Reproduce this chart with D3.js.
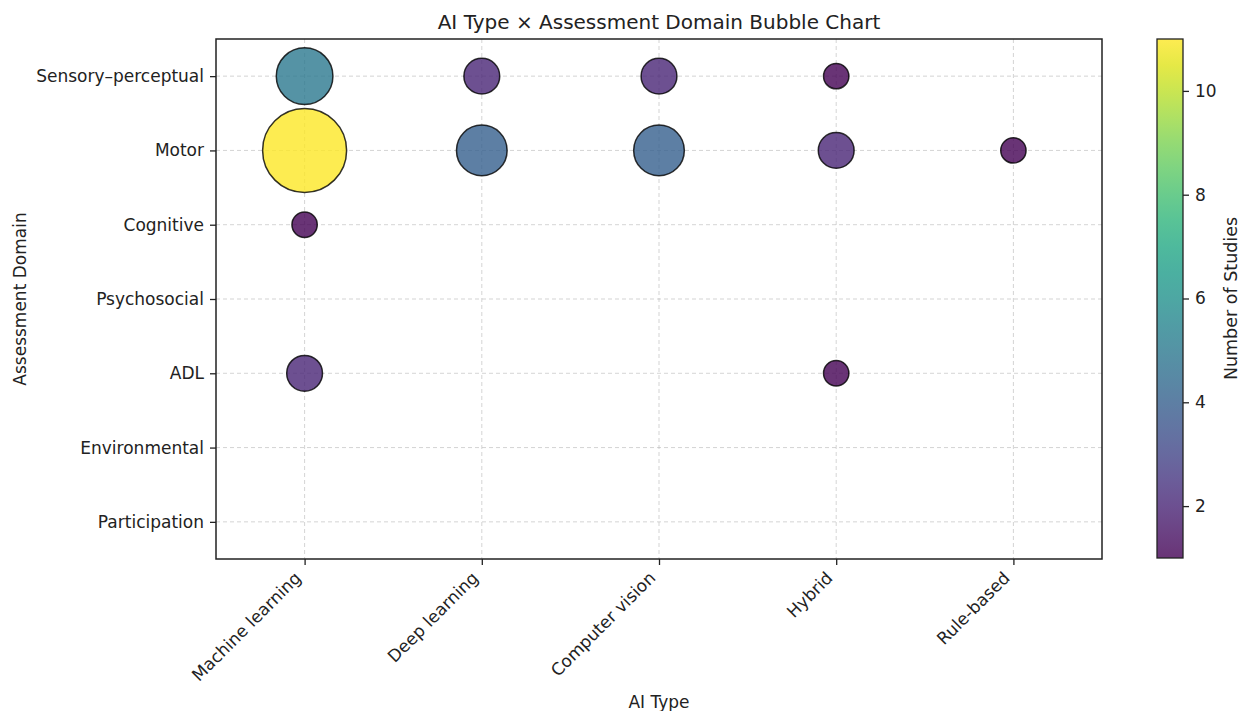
<!DOCTYPE html>
<html>
<head>
<meta charset="utf-8">
<script src="https://d3js.org/d3.v7.min.js"></script>
<style>
    body { margin: 0; background: white; }
    svg { font-family: "DejaVu Sans", sans-serif; }
    .grid line { stroke: #b0b0b0; stroke-dasharray: 4,3; stroke-opacity: 0.55; }
</style>
</head>
<body>
<script>
    // categories
    var aiTypes = ["Machine learning", "Deep learning", "Computer vision", "Hybrid", "Rule-based"];
    var domains = ["Sensory–perceptual", "Motor", "Cognitive", "Psychosocial", "ADL", "Environmental", "Participation"];

    // number of studies per AI type, one entry per domain (0 = no bubble)
    var machineLearning = [5, 11, 1, 0, 2, 0, 0];
    var deepLearning    = [2, 4, 0, 0, 0, 0, 0];
    var computerVision  = [2, 4, 0, 0, 0, 0, 0];
    var hybrid          = [1, 2, 0, 0, 1, 0, 0];
    var ruleBased       = [0, 1, 0, 0, 0, 0, 0];

    var colorTicks = [2, 4, 6, 8, 10];

    var counts = [machineLearning, deepLearning, computerVision, hybrid, ruleBased];
    var points = [];
    counts.forEach(function(row, i) {
        row.forEach(function(v, j) {
            if (v > 0) points.push({ai: aiTypes[i], domain: domains[j], n: v});
        });
    });

    var width = 1244, height = 711;
    var plot = {left: 216, right: 1102, top: 39, bottom: 559};
    var fs = 17;

    var svg = d3.select("body").append("svg")
        .attr("width", width)
        .attr("height", height);

    var x = d3.scalePoint().domain(aiTypes).range([plot.left, plot.right]).padding(0.5);
    var y = d3.scalePoint().domain(domains).range([plot.top, plot.bottom]).padding(0.5);
    var r = d3.scaleSqrt().domain([0, 11]).range([0, 42]);
    var color = d3.scaleSequential(d3.interpolateViridis).domain([1, 11]);

    // grid
    var grid = svg.append("g").attr("class", "grid");
    grid.selectAll(".gx").data(aiTypes).enter().append("line")
        .attr("x1", function(d) { return x(d); })
        .attr("x2", function(d) { return x(d); })
        .attr("y1", plot.top).attr("y2", plot.bottom);
    grid.selectAll(".gy").data(domains).enter().append("line")
        .attr("y1", function(d) { return y(d); })
        .attr("y2", function(d) { return y(d); })
        .attr("x1", plot.left).attr("x2", plot.right);

    // bubbles
    svg.append("g").selectAll("circle")
        .data(points)
        .enter().append("circle")
        .attr("cx", function(d) { return x(d.ai); })
        .attr("cy", function(d) { return y(d.domain); })
        .attr("r", function(d) { return r(d.n); })
        .attr("fill", function(d) { return color(d.n); })
        .attr("fill-opacity", 0.8)
        .attr("stroke", "#000")
        .attr("stroke-opacity", 0.8)
        .attr("stroke-width", 1.5);

    // frame
    svg.append("rect")
        .attr("x", plot.left).attr("y", plot.top)
        .attr("width", plot.right - plot.left)
        .attr("height", plot.bottom - plot.top)
        .attr("fill", "none")
        .attr("stroke", "#222")
        .attr("stroke-width", 1.5);

    // y axis
    var yAxis = svg.append("g")
        .attr("transform", "translate(" + plot.left + ",0)")
        .call(d3.axisLeft(y).tickSize(6).tickPadding(6));
    yAxis.select(".domain").remove();
    yAxis.selectAll(".tick line").attr("stroke", "#222").attr("stroke-width", 1.3);
    yAxis.selectAll("text").attr("font-size", fs).attr("fill", "#222")
        .attr("font-family", "DejaVu Sans");

    // x axis
    var xAxis = svg.append("g")
        .attr("transform", "translate(0," + plot.bottom + ")")
        .call(d3.axisBottom(x).tickSize(6).tickPadding(5));
    xAxis.select(".domain").remove();
    xAxis.selectAll(".tick line").attr("stroke", "#222").attr("stroke-width", 1.3);
    xAxis.selectAll("text")
        .attr("font-size", fs).attr("fill", "#222")
        .attr("font-family", "DejaVu Sans")
        .attr("text-anchor", "end")
        .attr("x", 0).attr("y", 0).attr("dy", 0)
        .attr("transform", "translate(-3,20) rotate(-45)");

    // title and labels
    svg.append("text")
        .attr("x", (plot.left + plot.right) / 2).attr("y", 29)
        .attr("text-anchor", "middle")
        .attr("font-size", 20).attr("fill", "#222")
        .text("AI Type × Assessment Domain Bubble Chart");

    svg.append("text")
        .attr("x", (plot.left + plot.right) / 2).attr("y", 708)
        .attr("text-anchor", "middle")
        .attr("font-size", fs).attr("fill", "#222")
        .text("AI Type");

    svg.append("text")
        .attr("transform", "translate(26," + (plot.top + plot.bottom) / 2 + ") rotate(-90)")
        .attr("text-anchor", "middle")
        .attr("font-size", fs).attr("fill", "#222")
        .text("Assessment Domain");

    // colorbar
    var cb = {x: 1157, w: 26, top: 39, bottom: 558};
    var cy = d3.scaleLinear().domain([1, 11]).range([cb.bottom, cb.top]);

    var defs = svg.append("defs");
    var grad = defs.append("linearGradient")
        .attr("id", "cbgrad")
        .attr("x1", 0).attr("y1", 1).attr("x2", 0).attr("y2", 0);
    d3.range(0, 1.0001, 0.05).forEach(function(t) {
        grad.append("stop")
            .attr("offset", t)
            .attr("stop-color", d3.interpolateViridis(t));
    });

    svg.append("rect")
        .attr("x", cb.x).attr("y", cb.top)
        .attr("width", cb.w).attr("height", cb.bottom - cb.top)
        .attr("fill", "url(#cbgrad)")
        .attr("fill-opacity", 0.8);
    svg.append("rect")
        .attr("x", cb.x).attr("y", cb.top)
        .attr("width", cb.w).attr("height", cb.bottom - cb.top)
        .attr("fill", "none")
        .attr("stroke", "#222").attr("stroke-width", 1.3);

    var cAxis = svg.append("g")
        .attr("transform", "translate(" + (cb.x + cb.w) + ",0)")
        .call(d3.axisRight(cy).tickValues(colorTicks).tickSize(6).tickPadding(6));
    cAxis.select(".domain").remove();
    cAxis.selectAll(".tick line").attr("stroke", "#222").attr("stroke-width", 1.3);
    cAxis.selectAll("text").attr("font-size", fs).attr("fill", "#222")
        .attr("font-family", "DejaVu Sans");

    svg.append("text")
        .attr("transform", "translate(1237," + (cb.top + cb.bottom) / 2 + ") rotate(-90)")
        .attr("text-anchor", "middle")
        .attr("font-size", 17.5).attr("fill", "#222")
        .text("Number of Studies");
</script>
</body>
</html>
